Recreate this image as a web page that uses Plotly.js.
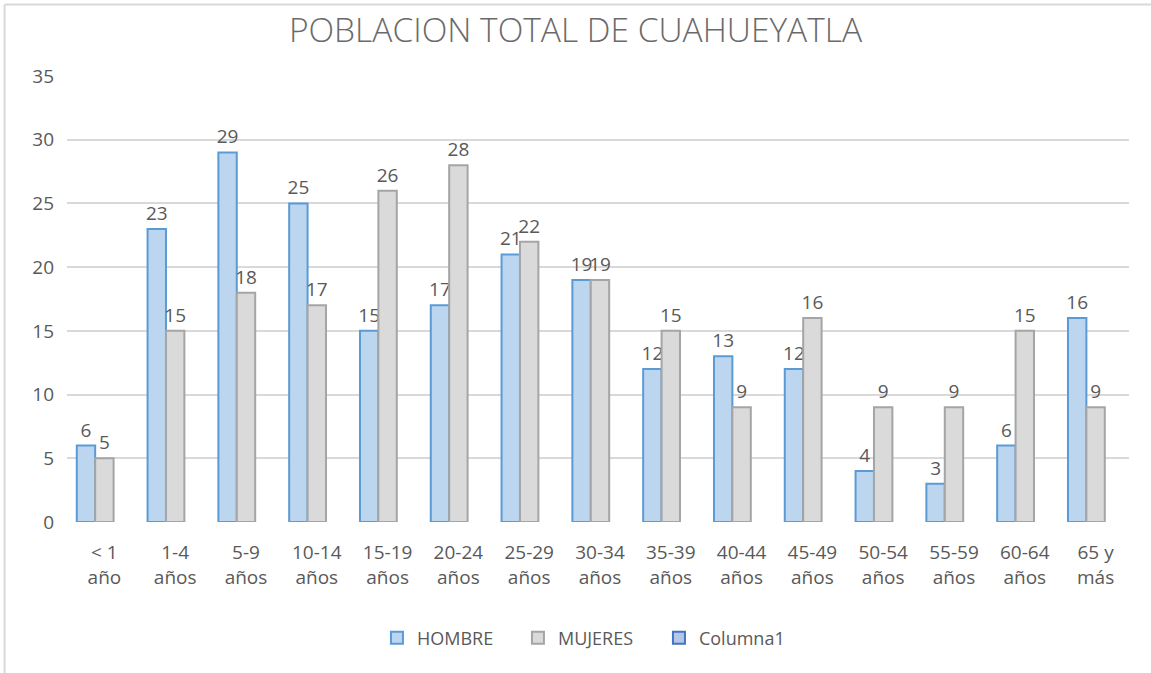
<!DOCTYPE html>
<html>
<head>
<meta charset="utf-8">
<script src="https://cdn.plot.ly/plotly-3.0.1.min.js"></script>
<style>html,body{margin:0;padding:0;background:#fff;}#chart{width:1151px;height:673px;}</style>
</head>
<body>
<div id="chart"></div>
<script>
const categories = ["< 1<br>año","1-4<br>años","5-9<br>años","10-14<br>años","15-19<br>años","20-24<br>años","25-29<br>años","30-34<br>años","35-39<br>años","40-44<br>años","45-49<br>años","50-54<br>años","55-59<br>años","60-64<br>años","65 y<br>más"];
const hombre = [6,23,29,25,15,17,21,19,12,13,12,4,3,6,16];
const mujeres = [5,15,18,17,26,28,22,19,15,9,16,9,9,15,9];
const columna1 = categories.map(() => null);
const yTicks = [0,5,10,15,20,25,30,35];

const textFont = {family: "Open Sans", size: 19, color: "#595959"};

const traces = [
  {type: "bar", name: "HOMBRE", x: categories, y: hombre,
   marker: {color: "#bcd6ef", line: {color: "#5b9bd5", width: 2}},
   text: hombre.map(String), textposition: "outside", textfont: textFont,
   constraintext: "none", cliponaxis: false, hoverinfo: "x+y"},
  {type: "bar", name: "MUJERES", x: categories, y: mujeres,
   marker: {color: "#dadada", line: {color: "#a5a5a5", width: 2}},
   text: mujeres.map(String), textposition: "outside", textfont: textFont,
   constraintext: "none", cliponaxis: false, hoverinfo: "x+y"},
  {type: "bar", name: "Columna1", x: categories, y: columna1,
   marker: {color: "#b4c7e7", line: {color: "#4472c4", width: 2}}}
];

const layout = {
  width: 1151, height: 673,
  paper_bgcolor: "#ffffff", plot_bgcolor: "#ffffff",
  margin: {l: 67, r: 22, t: 76, b: 151},
  title: {text: "POBLACION TOTAL DE CUAHUEYATLA", x: 0.5, xanchor: "center", y: 0.955, yanchor: "middle",
          font: {family: "Open Sans", size: 33.5, color: "#6a6a6a", weight: 300}},
  barmode: "group", bargap: 0.22, bargroupgap: 0,
  showlegend: true,
  legend: {orientation: "h", x: 0.491, xanchor: "center", y: -0.26, yanchor: "middle",
           entrywidth: 96, entrywidthmode: "pixels",
           font: {family: "Open Sans", size: 18, color: "#595959"}, traceorder: "normal"},
  xaxis: {type: "category", showgrid: false, zeroline: false, showline: false,
          ticks: "", tickfont: {family: "Open Sans", size: 19, color: "#595959"},
          ticklabelstandoff: 17, range: [-0.528, 14.472]},
  yaxis: {range: [0, 35], tickvals: yTicks, ticktext: yTicks.map(String),
          showgrid: true, gridcolor: "#d9d9d9", gridwidth: 2, zeroline: false, showline: false,
          ticks: "", tickfont: {family: "Open Sans", size: 19, color: "#595959"},
          ticklabelstandoff: 12},
  shapes: [
    {type: "line", xref: "paper", yref: "paper", x0: -0.0588, x1: -0.0588, y0: 1.1603, y1: -0.34,
     line: {color: "#d9d9d9", width: 2}},
    {type: "line", xref: "paper", yref: "paper", x0: -0.0588, x1: 1.03, y0: 1.1603, y1: 1.1603,
     line: {color: "#d9d9d9", width: 2}}
  ]
};

Plotly.newPlot("chart", traces, layout, {displayModeBar: false, staticPlot: true});
</script>
</body>
</html>
